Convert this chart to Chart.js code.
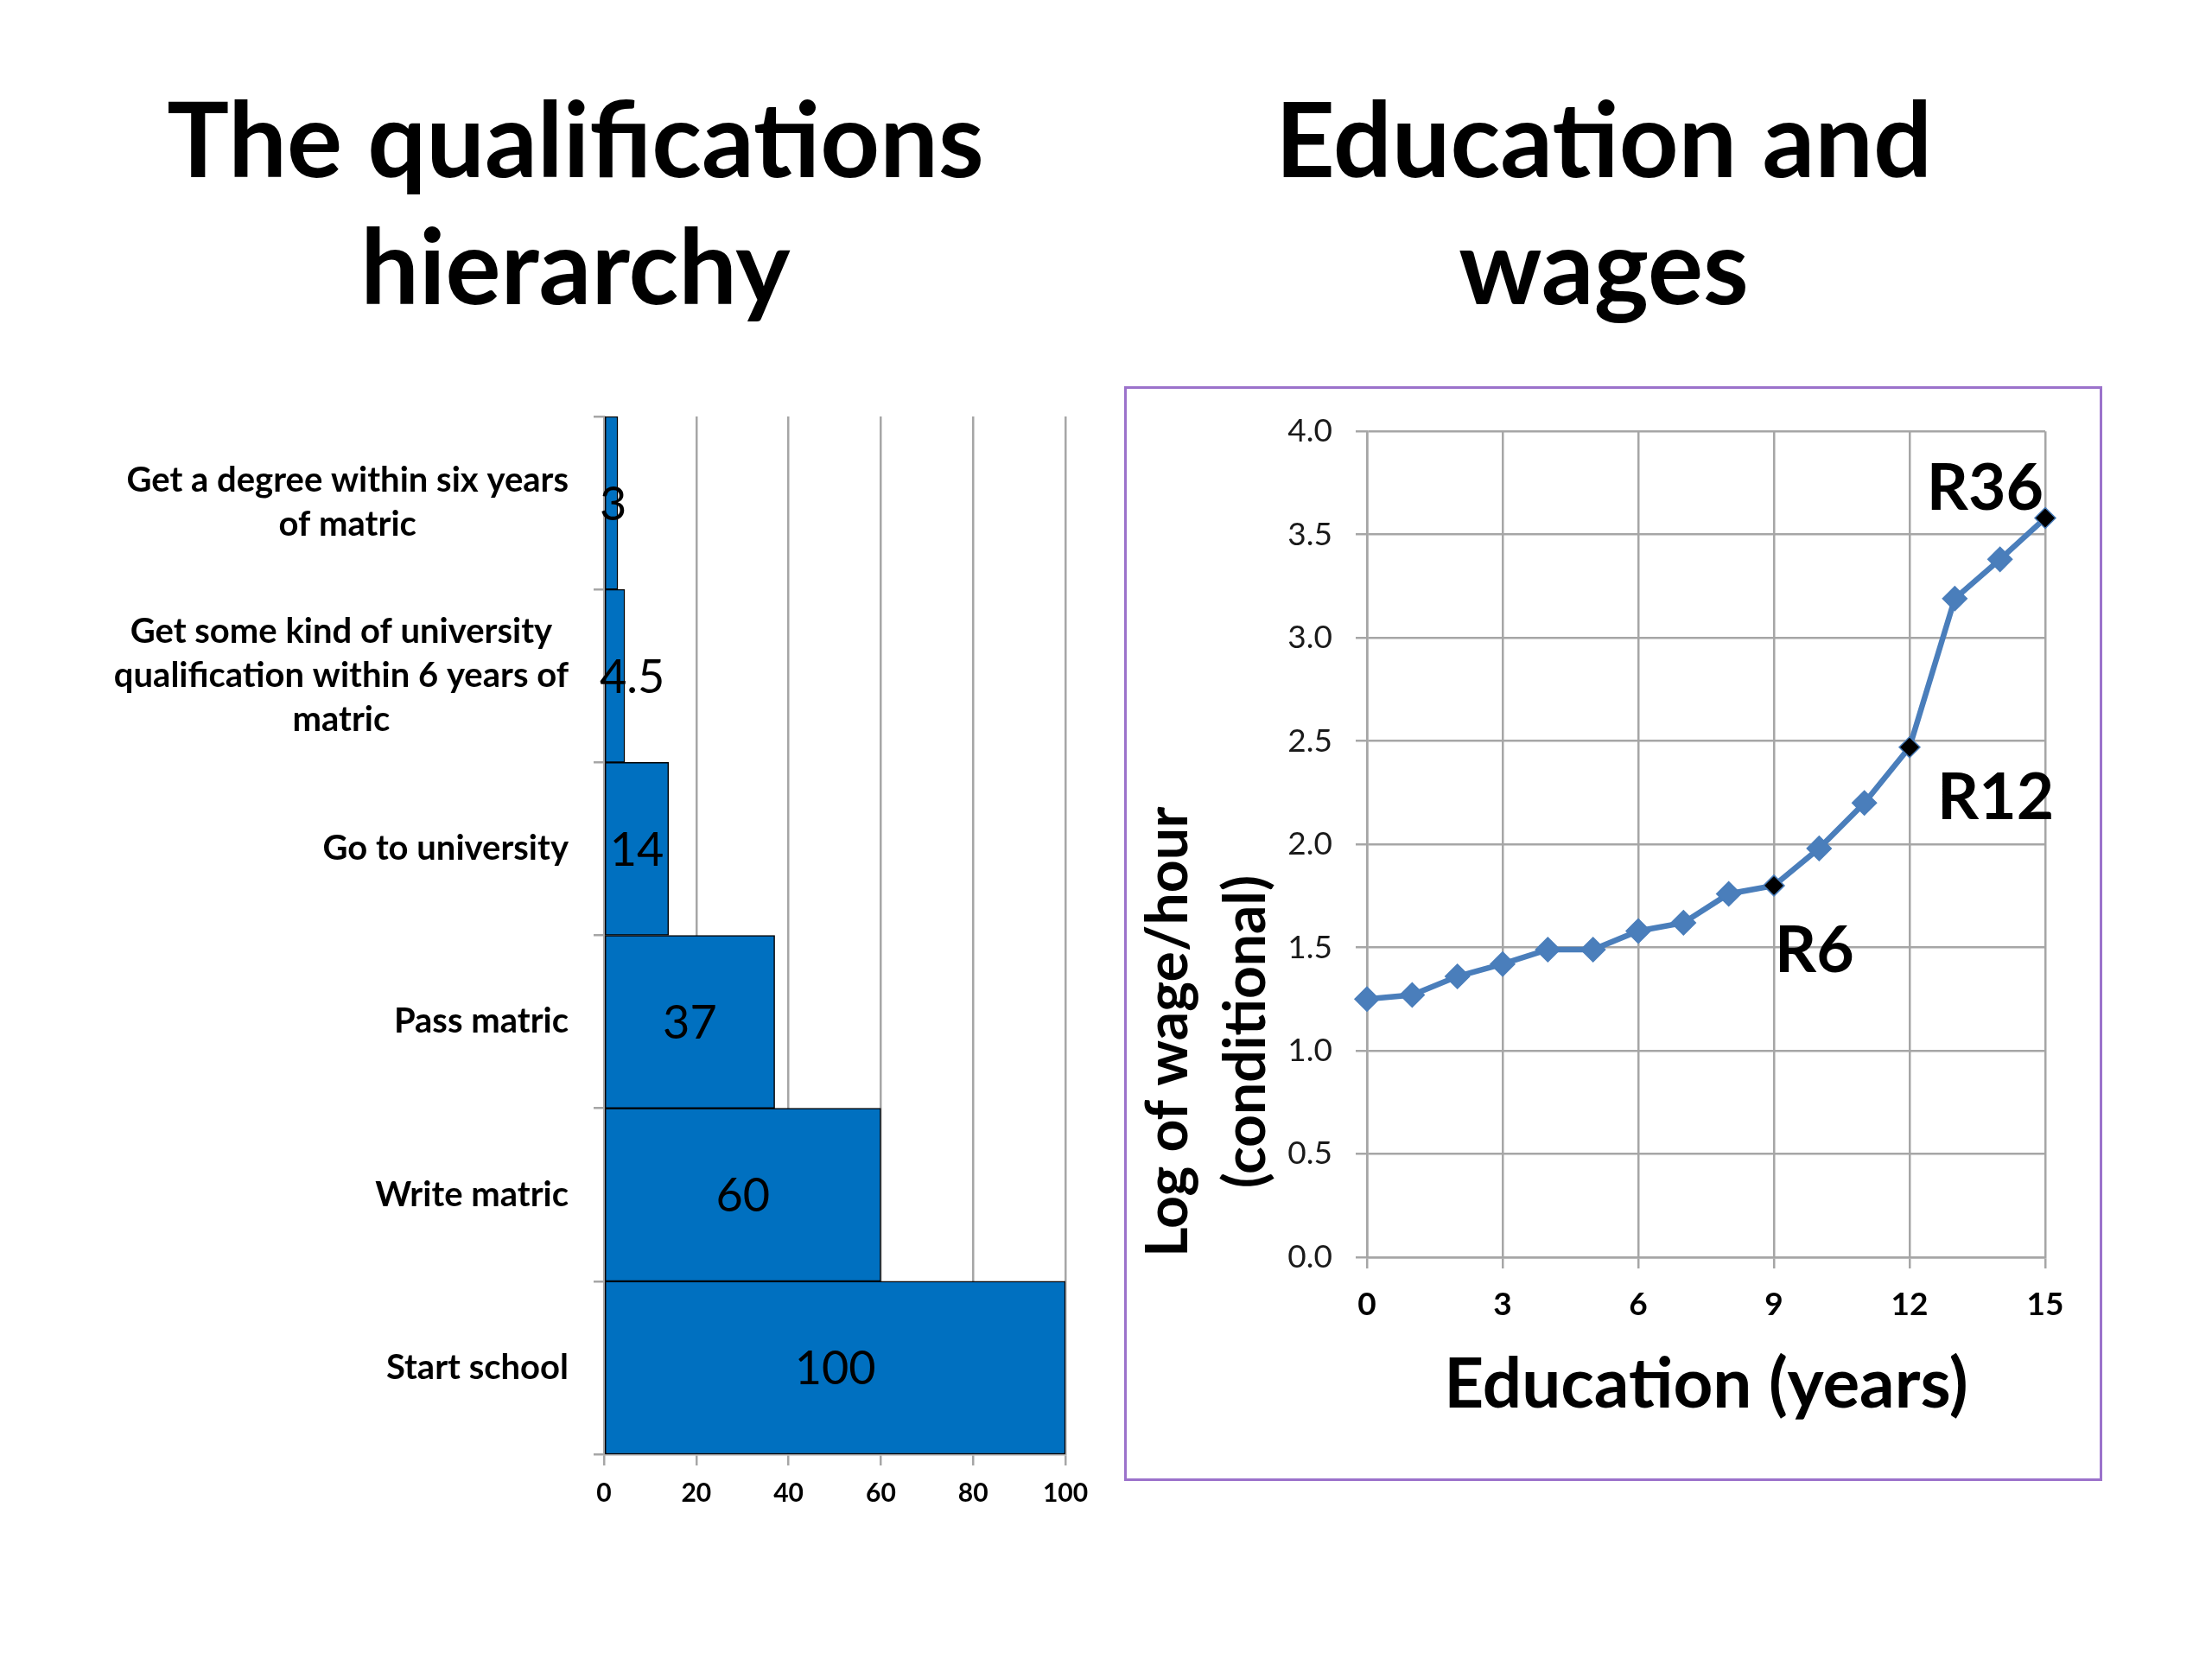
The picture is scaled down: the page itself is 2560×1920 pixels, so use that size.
<!DOCTYPE html>
<html>
<head>
<meta charset="utf-8">
<script src="https://cdn.jsdelivr.net/npm/chart.js@4.4.1/dist/chart.umd.min.js"></script>
<style>
  html, body { margin: 0; padding: 0; background: #fff; }
  body { width: 2560px; height: 1920px; position: relative; overflow: hidden; font-family: Lato, sans-serif; }
  .title { position: absolute; font-weight: 700; font-size: 120px; line-height: 147px; text-align: center; color: #000; }
  #t1 { left: 0; top: 86px; width: 1332px; }
  #t2 { left: 1256px; top: 86px; width: 1200px; }
  #box1 { position: absolute; left: 0; top: 440px; width: 1300px; height: 1360px; }
  #box2 { position: absolute; left: 1301px; top: 447px; width: 1132px; height: 1267px;
          border: 3px solid #9B72CB; box-sizing: border-box; }
</style>
</head>
<body>
<div class="title" id="t1">The qualifications<br>hierarchy</div>
<div class="title" id="t2">Education and<br>wages</div>
<div id="box1"><canvas id="chartHier"></canvas></div>
<div id="box2"><canvas id="chartWage"></canvas></div>

<script>
// data: qualifications hierarchy (out of 100 who start school)
const steps = [
    ['Get a degree within six years', 'of matric'],
    ['Get some kind of university', 'qualification within 6 years of', 'matric'],
    ['Go to university'],
    ['Pass matric'],
    ['Write matric'],
    ['Start school']
];
const shares = [3, 4.5, 14, 37, 60, 100];
const shareTicks = [0, 20, 40, 60, 80, 100];

// data: education and wages
const years = [0, 1, 2, 3, 4, 5, 6, 7, 8, 9, 10, 11, 12, 13, 14, 15];
const logWage = [1.25, 1.27, 1.36, 1.42, 1.49, 1.49, 1.58, 1.62, 1.76, 1.80, 1.98, 2.20, 2.47, 3.19, 3.38, 3.58];
const yearTicks = [0, 3, 6, 9, 12, 15];
const wageTicks = [0, 0.5, 1, 1.5, 2, 2.5, 3, 3.5, 4];
const markYears = [9, 12, 15];
const markLabels = ['R6', 'R12', 'R36'];
const wageTitle = ['Log of wage/hour', '(conditional)'];

Chart.defaults.font.family = 'Lato';
Chart.defaults.color = '#000';

const GRID = '#A6A6A6';

// value labels inside bars + wrapped category labels
const hierText = {
    id: 'hierText',
    afterDatasetsDraw(chart) {
        const ctx = chart.ctx;
        const left = chart.chartArea.left;
        const meta = chart.getDatasetMeta(0);
        ctx.save();
        ctx.fillStyle = '#000';
        ctx.textBaseline = 'middle';
        ctx.textAlign = 'center';
        ctx.font = '54px Lato';
        meta.data.forEach((bar, i) => {
            const txt = String(shares[i]);
            const w = ctx.measureText(txt).width;
            let x = (bar.base + bar.x) / 2;
            if (x - w / 2 < left - 5) x = left - 5 + w / 2;
            ctx.fillText(txt, x, bar.y + 2);
        });
        const ys = chart.scales.y;
        ctx.font = 'bold 40px Lato';
        steps.forEach((lines, i) => {
            const yc = ys.getPixelForValue(i);
            const w = Math.max(...lines.map(l => ctx.measureText(l).width));
            const xc = left - 41 - w / 2;
            lines.forEach((l, j) => {
                ctx.fillText(l, xc, yc + (j - (lines.length - 1) / 2) * 51);
            });
        });
        ctx.restore();
    }
};

new Chart(document.getElementById('chartHier'), {
    type: 'bar',
    data: {
        labels: steps.map(l => l.join(' ')),
        datasets: [{
            data: shares,
            backgroundColor: '#0070C0',
            borderColor: '#000',
            borderWidth: 1.5,
            borderSkipped: false,
            barPercentage: 1,
            categoryPercentage: 1
        }]
    },
    options: {
        indexAxis: 'y',
        responsive: true,
        maintainAspectRatio: false,
        animation: false,
        layout: { padding: { top: 42, right: 67, left: 0, bottom: 0 } },
        plugins: { legend: { display: false }, tooltip: { enabled: false } },
        scales: {
            x: {
                type: 'linear', min: 0, max: 100,
                afterBuildTicks: s => { s.ticks = shareTicks.map(v => ({ value: v })); },
                afterFit: s => { s.height = 117; },
                grid: { color: GRID, lineWidth: 2.5, tickLength: 13 },
                border: { color: GRID, width: 2.5 },
                ticks: { font: { size: 30, weight: 'bold' }, color: '#000', padding: 14 }
            },
            y: {
                afterFit: s => { s.width = 699; },
                grid: { drawOnChartArea: false, offset: true, tickLength: 12, color: GRID, lineWidth: 2.5 },
                border: { color: GRID, width: 2.5 },
                ticks: { display: false }
            }
        }
    },
    plugins: [hierText]
});

// R-labels next to the marked points, rotated y title
const markPos = [
    { dx: 1, dy: 100, align: 'left' },
    { dx: 32, dy: 83, align: 'left' },
    { dx: -2, dy: -10, align: 'right' }
];
const wageText = {
    id: 'wageText',
    afterDraw(chart) {
        const { ctx, chartArea } = chart;
        const xs = chart.scales.x, ys = chart.scales.y;
        ctx.save();
        ctx.fillStyle = '#000';
        ctx.font = 'bold 75px Lato';
        ctx.textBaseline = 'alphabetic';
        markLabels.forEach((lab, k) => {
            const p = markPos[k];
            const px = xs.getPixelForValue(markYears[k]);
            const py = ys.getPixelForValue(logWage[years.indexOf(markYears[k])]);
            ctx.textAlign = p.align;
            ctx.fillText(lab, px + p.dx, py + p.dy);
        });
        ctx.font = 'bold 66px Lato';
        ctx.textAlign = 'center';
        ctx.translate(chartArea.left - 208, (chartArea.top + chartArea.bottom) / 2 + 217);
        ctx.rotate(-Math.PI / 2);
        ctx.fillText(wageTitle[0], 0, 0);
        ctx.fillText(wageTitle[1], 0, 90);
        ctx.restore();
    }
};

new Chart(document.getElementById('chartWage'), {
    type: 'line',
    data: {
        datasets: [{
            data: years.map((x, i) => ({ x: x, y: logWage[i] })),
            borderColor: '#4A7EBB',
            borderWidth: 6.5,
            tension: 0,
            fill: false,
            clip: false,
            pointStyle: 'rectRot',
            pointRadius: years.map(y => markYears.includes(y) ? 12 : 14),
            pointBackgroundColor: years.map(y => markYears.includes(y) ? '#000' : '#4A7EBB'),
            pointBorderColor: '#4A7EBB',
            pointBorderWidth: 1.5
        }]
    },
    options: {
        responsive: true,
        maintainAspectRatio: false,
        animation: false,
        layout: { padding: { top: 48, right: 63, left: 0, bottom: 0 } },
        plugins: { legend: { display: false }, tooltip: { enabled: false } },
        scales: {
            x: {
                type: 'linear', min: 0, max: 15,
                afterBuildTicks: s => { s.ticks = yearTicks.map(v => ({ value: v })); },
                afterFit: s => { s.height = 256; },
                grid: { color: GRID, lineWidth: 2.5, tickLength: 13 },
                border: { color: GRID, width: 2.5 },
                ticks: { font: { size: 37, weight: 'bold' }, color: '#000', padding: 20 },
                title: {
                    display: true, text: 'Education (years)', color: '#000',
                    font: { size: 80, weight: 'bold' }, padding: { top: 0, bottom: 60 }
                }
            },
            y: {
                type: 'linear', min: 0, max: 4,
                afterBuildTicks: s => { s.ticks = wageTicks.map(v => ({ value: v })); },
                afterFit: s => { s.width = 278; },
                grid: { color: GRID, lineWidth: 2.5, tickLength: 13 },
                border: { color: GRID, width: 2.5 },
                ticks: { font: { size: 37 }, color: '#1a1a1a', padding: 27, callback: v => Number(v).toFixed(1) }
            }
        }
    },
    plugins: [wageText]
});
</script>
</body>
</html>
